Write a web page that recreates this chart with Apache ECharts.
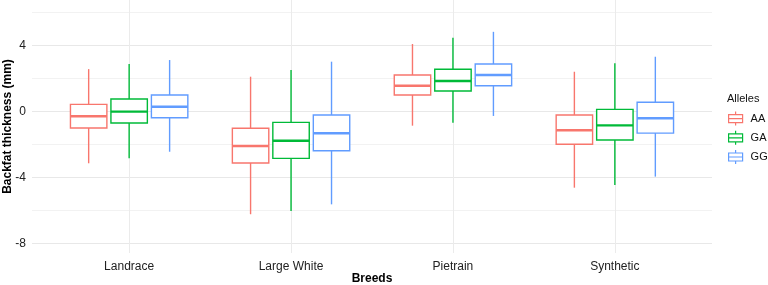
<!DOCTYPE html>
<html>
<head>
<meta charset="utf-8">
<script src="https://cdn.jsdelivr.net/npm/echarts@6/dist/echarts.min.js"></script>
<style>
  html, body { margin: 0; padding: 0; background: #fff; }
  #chart { width: 768px; height: 285px; }
</style>
</head>
<body>
<div id="chart"></div>
<script>
const breeds = ['Landrace', 'Large White', 'Pietrain', 'Synthetic']
const alleles = ['AA', 'GA', 'GG']
const alleleColors = ['#F8766D', '#00BA38', '#619CFF']
// [min, Q1, median, Q3, max] per breed
const boxAA = [
  [-3.15, -1.01, -0.30, 0.42, 2.56],
  [-6.24, -3.13, -2.10, -1.03, 2.10],
  [-0.87, 0.99, 1.55, 2.20, 4.08],
  [-4.63, -2.00, -1.15, -0.22, 2.40]
]
const boxGA = [
  [-2.85, -0.71, -0.02, 0.75, 2.87],
  [-6.04, -2.85, -1.78, -0.67, 2.50],
  [-0.69, 1.23, 1.84, 2.55, 4.46],
  [-4.47, -1.74, -0.85, 0.12, 2.91]
]
const boxGG = [
  [-2.45, -0.39, 0.28, 0.99, 3.11],
  [-5.64, -2.39, -1.33, -0.22, 3.01],
  [-0.28, 1.55, 2.20, 2.87, 4.82],
  [-3.96, -1.32, -0.42, 0.55, 3.31]
]
const yTickLabels = [-8, -4, 0, 4]
const yGridValues = [-8, -6, -4, -2, 0, 2, 4, 6]
const xTickValues = [0, 1, 2, 3]

const allBoxes = [boxAA, boxGA, boxGG]
const dodge = [-0.25, 0, 0.25]
const boxWidth = 0.225

function renderBox (offset, color) {
  return function (params, api) {
    const x = api.value(0) + offset
    const lo = api.coord([x, api.value(1)])
    const q1 = api.coord([x, api.value(2)])
    const med = api.coord([x, api.value(3)])
    const q3 = api.coord([x, api.value(4)])
    const hi = api.coord([x, api.value(5)])
    const half = api.size([boxWidth, 0])[0] / 2
    const thin = { stroke: color, lineWidth: 1.4, fill: null }
    return {
      type: 'group',
      children: [
        { type: 'line', shape: { x1: lo[0], y1: lo[1], x2: q1[0], y2: q1[1] }, style: thin },
        { type: 'line', shape: { x1: q3[0], y1: q3[1], x2: hi[0], y2: hi[1] }, style: thin },
        {
          type: 'rect',
          shape: { x: lo[0] - half, y: q3[1], width: half * 2, height: q1[1] - q3[1] },
          style: { fill: '#fff', stroke: color, lineWidth: 1.4 }
        },
        { type: 'line', shape: { x1: lo[0] - half, y1: med[1], x2: lo[0] + half, y2: med[1] }, style: { stroke: color, lineWidth: 2.4 } }
      ]
    }
  }
}

const myChart = echarts.init(document.getElementById('chart'))
const option = {
  animation: false,
  textStyle: { fontFamily: 'Liberation Sans, Arial, sans-serif' },
  title: {
    text: 'Alleles',
    left: 727,
    top: 93,
    padding: 0,
    textStyle: { fontSize: 11, fontWeight: 'normal', color: '#111' }
  },
  legend: {
    orient: 'vertical',
    left: 728,
    top: 111,
    padding: 0,
    itemWidth: 16,
    itemHeight: 14,
    itemGap: 4,
    icon: 'path://M8,0V3M1,3H15V11H1ZM1,7H15M8,11V14',
    textStyle: { fontSize: 11, color: '#111', padding: [0, 0, 0, 2] },
    data: alleles.map((a, k) => ({
      name: a,
      itemStyle: { color: '#fff', borderColor: alleleColors[k], borderWidth: 1.2 }
    }))
  },
  grid: {
    left: 32,
    right: 56,
    top: 0,
    bottom: 32,
    containLabel: false,
    outerBoundsMode: 'none'
  },
  xAxis: {
    type: 'value',
    min: -0.6,
    max: 3.6,
    name: 'Breeds',
    nameLocation: 'middle',
    nameGap: 20,
    nameMoveOverlap: false,
    nameTextStyle: { fontSize: 12, fontWeight: 'bold', color: '#000' },
    axisLine: { show: false },
    axisTick: { show: false, customValues: xTickValues },
    axisLabel: {
      customValues: xTickValues,
      margin: 8,
      fontSize: 12,
      color: '#222',
      formatter: v => breeds[Math.round(v)]
    },
    splitLine: { show: true, lineStyle: { color: '#ebebeb', width: 1 } }
  },
  yAxis: {
    type: 'value',
    min: -8.59,
    max: 6.75,
    name: 'Backfat thickness (mm)',
    nameLocation: 'middle',
    nameRotate: 90,
    nameGap: 18,
    nameMoveOverlap: false,
    nameTextStyle: { fontSize: 12, fontWeight: 'bold', color: '#000' },
    axisLine: { show: false },
    axisTick: { show: false, customValues: yGridValues },
    axisLabel: {
      customValues: yTickLabels,
      margin: 6,
      fontSize: 12,
      color: '#222'
    },
    splitLine: { show: true, lineStyle: { color: ['#e8e8e8', '#f2f2f2'], width: 1 } }
  },
  series: alleles.map((a, k) => ({
    name: a,
    type: 'custom',
    itemStyle: { color: alleleColors[k] },
    renderItem: renderBox(dodge[k], alleleColors[k]),
    encode: { x: 0, y: [1, 2, 3, 4, 5] },
    data: allBoxes[k].map((b, i) => [i].concat(b))
  }))
}
myChart.setOption(option)
</script>
</body>
</html>
